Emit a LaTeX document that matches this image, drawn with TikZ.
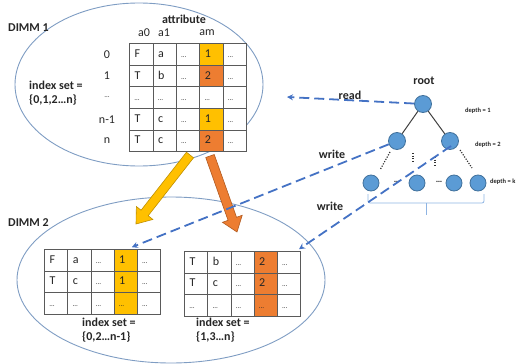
\documentclass[tikz,border=0pt]{standalone}
\usepackage{fontspec}
\setmainfont{Carlito}
\usetikzlibrary{calc,arrows.meta,matrix,shapes.geometric}
\definecolor{yel}{HTML}{FFC000}
\definecolor{yeledge}{HTML}{C09000}
\definecolor{ora}{HTML}{ED7D31}
\definecolor{oraedge}{HTML}{B05A20}
\definecolor{nodeblue}{HTML}{5B9BD5}
\definecolor{nodeedge}{HTML}{41719C}
\definecolor{dashc}{HTML}{4472C4}
\definecolor{ellc}{HTML}{7F9DC3}
\definecolor{bracec}{HTML}{8EB4E3}
\definecolor{gridc}{HTML}{5A5A5A}
\definecolor{txtc}{HTML}{262626}
\definecolor{edgec}{HTML}{404040}
\newcommand{\celldots}{{\fontsize{7}{7}\selectfont …}}
\tikzset{
  cell/.style={draw=gridc, line width=0.8pt, fill=white, text=txtc,
    font=\fontsize{12}{14}\selectfont,
    minimum height=21.6pt, text width=13.4pt, inner xsep=5pt, inner ysep=0pt,
    text height=8.5pt, text depth=2.5pt, align=left},
  cell2/.style={cell, minimum height=21.5pt, text width=13.2pt},
  tbl/.style={matrix of nodes, column sep=-0.8pt, row sep=-0.8pt, anchor=north west, inner sep=0pt},
  dimm/.style={ellipse, draw=ellc, line width=0.9pt, inner sep=0pt},
  lbl/.style={font=\fontsize{12}{14.5}\selectfont\bfseries, text=txtc, inner sep=0pt},
  plain/.style={font=\fontsize{12}{14}\selectfont, text=txtc, inner sep=0pt},
  depthlbl/.style={font=\fontsize{6.5}{7}\selectfont\bfseries, text=txtc, inner sep=0pt, anchor=west},
  treenode/.style={circle, fill=nodeblue, draw=nodeedge, line width=0.8pt, minimum size=17pt, inner sep=0pt},
  treeedge/.style={edgec, line width=1pt},
  dots/.style={draw=black!80, line width=1.2pt, dash pattern=on 1.2pt off 1.4pt},
  dashedarrow/.style={draw=dashc, line width=1.8pt, dash pattern=on 10pt off 5pt, -{Stealth[length=6pt,width=6pt]}},
}
\begin{document}
\begin{tikzpicture}[x=1pt,y=-1pt]
\useasboundingbox (0,0) rectangle (525,364);

% ellipses
\node[dimm, minimum width=248pt, minimum height=163pt] (dimm1) at (139,84.5) {};
\node[dimm, minimum width=308pt, minimum height=166pt] (dimm2) at (171,280) {};
\node[lbl, anchor=west] (d1lbl) at (8,28) {DIMM 1};
\node[lbl, anchor=west] (d2lbl) at (8,223) {DIMM 2};

% table 1
\matrix (t1) [tbl, nodes={cell}] at (129,43) {
F & a & \celldots & |[fill=yel]| 1 & \celldots \\
T & b & \celldots & |[fill=ora]| 2 & \celldots \\
\celldots & \celldots & \celldots & \celldots & \celldots \\
T & c & \celldots & |[fill=yel]| 1 & \celldots \\
T & c & \celldots & |[fill=ora]| 2 & \celldots \\
};
\coordinate (rowx) at (107,0);
\node[plain] (r0) at (t1-1-1 -| rowx) {0};
\node[plain] (r1) at (t1-2-1 -| rowx) {1};
\node[plain] (r2) at (t1-3-1 -| rowx) {\celldots};
\node[plain] (r3) at (t1-4-1 -| rowx) {n-1};
\node[plain] (r4) at (t1-5-1 -| rowx) {n};
\node[plain] (ha0) at (144,33) {a0};
\node[plain] (ha1) at (164,33) {a1};
\node[plain] (ham) at (207,33) {am};
\node[lbl] (attr) at (184,19.5) {attribute};
\node[lbl, anchor=west, align=left] (is1) at (29,93) {index set =\\\{0,1,2…n\}};

% tables 2
\matrix (t2a) [tbl, nodes={cell2}] at (44,249) {
F & a & \celldots & |[fill=yel]| 1 & \celldots \\
T & c & \celldots & |[fill=yel]| 1 & \celldots \\
\celldots & \celldots & \celldots & |[fill=yel]| \celldots & \celldots \\
};
\matrix (t2b) [tbl, nodes={cell2}] at (184,251) {
T & b & \celldots & |[fill=ora]| 2 & \celldots \\
T & c & \celldots & |[fill=ora]| 2 & \celldots \\
\celldots & \celldots & \celldots & |[fill=ora]| \celldots & \celldots \\
};
\node[lbl, anchor=west, align=left] (is2) at (82,330) {index set =\\\{0,2…n-1\}};
\node[lbl, anchor=west, align=left] (is3) at (196,330) {index set =\\\{1,3…n\}};

% block arrows
\coordinate (ya1) at (190,155);
\coordinate (ya2) at (136,224);
\coordinate (yh) at ($(ya2)!14pt!(ya1)$);
\filldraw[fill=yel, draw=yeledge, line width=0.6pt]
  ($(ya1)!4.5pt!90:(ya2)$) -- ($(yh)!4.5pt!90:(ya2)$) -- ($(yh)!10.5pt!90:(ya2)$) -- (ya2)
  -- ($(yh)!10.5pt!-90:(ya2)$) -- ($(yh)!4.5pt!-90:(ya2)$) -- ($(ya1)!4.5pt!-90:(ya2)$) -- cycle;
\coordinate (oa1) at (210,156);
\coordinate (oa2) at (237,232);
\coordinate (oh) at ($(oa2)!14pt!(oa1)$);
\filldraw[fill=ora, draw=oraedge, line width=0.6pt]
  ($(oa1)!4.5pt!90:(oa2)$) -- ($(oh)!4.5pt!90:(oa2)$) -- ($(oh)!10.5pt!90:(oa2)$) -- (oa2)
  -- ($(oh)!10.5pt!-90:(oa2)$) -- ($(oh)!4.5pt!-90:(oa2)$) -- ($(oa1)!4.5pt!-90:(oa2)$) -- cycle;

% tree
\node[treenode] (root) at (423,104) {};
\node[treenode] (n21) at (397,141) {};
\node[treenode] (n22) at (450,141) {};
\node[treenode, minimum size=16pt] (k1) at (371,183) {};
\node[treenode, minimum size=16pt] (k2) at (417,183) {};
\node[treenode, minimum size=16pt] (k3) at (454,183) {};
\node[treenode, minimum size=16pt] (k4) at (478,183) {};
\draw[treeedge] (root) -- (n21);
\draw[treeedge] (root) -- (n22);
\node[lbl] (rootlbl) at (424,81) {root};
\node[depthlbl] (dep1) at (465,111) {depth = 1};
\node[depthlbl] (dep2) at (475,145) {depth = 2};
\node[depthlbl] (depk) at (490,182) {depth = k};
\node[lbl, font=\fontsize{9}{9}\selectfont\bfseries] (el1) at (397,182) {…};
\node[lbl, font=\fontsize{9}{9}\selectfont\bfseries] (el2) at (439,182) {…};
\draw[dots] (390,152) -- (380,170);
\draw[dots] (413,153) -- (413,163);
\draw[dots] (435,157) -- (435,166);
\draw[dots] (460,150) -- (472,168);
\draw[bracec, line width=0.8pt, rounded corners=2pt] (368,194) -- (368,203) -- (484,203) -- (484,194);
\draw[bracec, line width=0.8pt] (426,203) -- (426,215);

% dashed connectors
\coordinate (readend) at (287,97);
\coordinate (w1end) at ([xshift=6pt,yshift=2pt]t2a-1-4.north);
\coordinate (w2end) at ([xshift=-2pt,yshift=2pt]t2b-1-5.north east);
\draw[dashedarrow] (root) -- (readend);
\draw[dashedarrow] (n21) -- (w1end);
\draw[dashedarrow] ([xshift=1pt,yshift=-5pt]n22.center) -- (w2end);
\node[lbl] (readlbl) at (350,95) {read};
\node[lbl] (w1lbl) at (332,154) {write};
\node[lbl] (w2lbl) at (330,206) {write};
\end{tikzpicture}
\end{document}
